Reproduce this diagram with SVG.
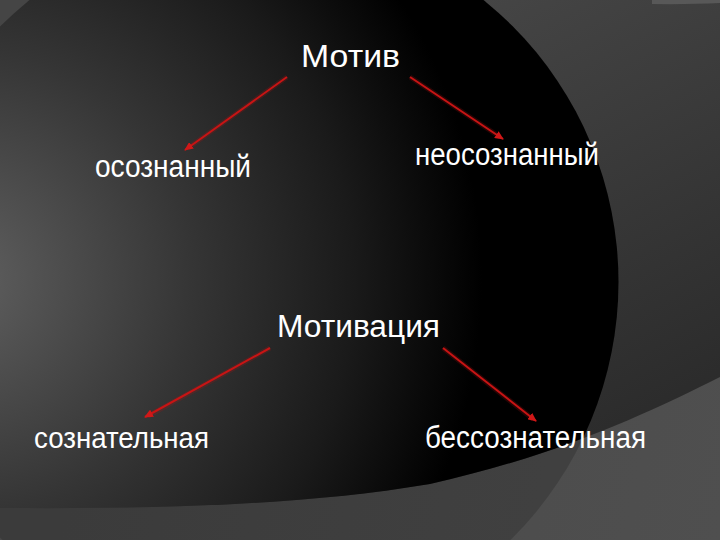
<svg xmlns="http://www.w3.org/2000/svg" width="720" height="540" viewBox="0 0 720 540">
  <style>
    .lbl { font-family: "Liberation Sans", Arial, sans-serif; fill: #ffffff; }
    .conn { stroke: #c81414; stroke-width: 2; fill: none; marker-end: url(#arrow); }
    .glow { stroke: #b01010; stroke-width: 5; stroke-opacity: 0.22; fill: none; }
  </style>
  <defs>
    <marker id="arrow" markerUnits="userSpaceOnUse" markerWidth="9" markerHeight="8" refX="8" refY="4" orient="auto">
      <path d="M0,0 L9,4 L0,8 Z" fill="#d01818"/>
    </marker>
    <radialGradient id="gDark" gradientUnits="userSpaceOnUse" cx="-40" cy="280" r="580">
      <stop offset="0" stop-color="#606060"/>
      <stop offset="0.4" stop-color="#353535"/>
      <stop offset="0.68" stop-color="#1a1a1a"/>
      <stop offset="0.9" stop-color="#000000"/>
      <stop offset="1" stop-color="#000000"/>
    </radialGradient>
    <linearGradient id="gMid" gradientUnits="userSpaceOnUse" x1="480" y1="0" x2="700" y2="420">
      <stop offset="0" stop-color="#454545"/>
      <stop offset="1" stop-color="#2a2a2a"/>
    </linearGradient>
    <linearGradient id="gBand" gradientUnits="userSpaceOnUse" x1="0" y1="380" x2="720" y2="540">
      <stop offset="0" stop-color="#474747"/>
      <stop offset="1" stop-color="#4f4f4f"/>
    </linearGradient>
    <clipPath id="clipA">
      <path d="M0,0 L720,0 L720,377 C650,412 560,455 430,484 C300,506 150,509 0,508 Z"/>
    </clipPath>
  </defs>

  <g id="background">
    <rect x="0" y="0" width="720" height="540" fill="url(#gBand)"/>
    <circle cx="256.5" cy="282" r="362" fill="#000000" fill-opacity="0.17"/>
    <path d="M0,0 L720,0 L720,377 C650,412 560,455 430,484 C300,506 150,509 0,508 Z" fill="url(#gMid)"/>
    <circle cx="256.5" cy="282" r="362" fill="url(#gDark)" clip-path="url(#clipA)"/>
    <path d="M652,0 L720,0 L720,3 Q690,4.5 652,4 Z" fill="#585858"/>
  </g>

  <g id="connectors">
    <line class="glow" x1="287" y1="77" x2="188" y2="148"/>
    <line class="glow" x1="410" y1="77" x2="500" y2="137"/>
    <line class="glow" x1="270" y1="348" x2="148" y2="416"/>
    <line class="glow" x1="443" y1="348" x2="533" y2="419"/>
    <line class="conn" x1="287" y1="77" x2="185" y2="150"/>
    <line class="conn" x1="410" y1="77" x2="503" y2="139"/>
    <line class="conn" x1="270" y1="348" x2="145" y2="417"/>
    <line class="conn" x1="443" y1="348" x2="536" y2="421"/>
  </g>

  <g id="node-motiv">
    <text class="lbl" x="301" y="67" font-size="31" textLength="99" lengthAdjust="spacingAndGlyphs">Мотив</text>
  </g>
  <g id="node-osoznanny">
    <text class="lbl" x="95" y="177" font-size="31" textLength="156" lengthAdjust="spacingAndGlyphs">осознанный</text>
  </g>
  <g id="node-neosoznanny">
    <text class="lbl" x="415" y="165" font-size="31" textLength="184" lengthAdjust="spacingAndGlyphs">неосознанный</text>
  </g>
  <g id="node-motivatsiya">
    <text class="lbl" x="277" y="337" font-size="31" textLength="163" lengthAdjust="spacingAndGlyphs">Мотивация</text>
  </g>
  <g id="node-soznatelnaya">
    <text class="lbl" x="34" y="448" font-size="30" textLength="175" lengthAdjust="spacingAndGlyphs">сознательная</text>
  </g>
  <g id="node-bessoznatelnaya">
    <text class="lbl" x="425" y="448" font-size="31" textLength="221" lengthAdjust="spacingAndGlyphs">бессознательная</text>
  </g>
</svg>
